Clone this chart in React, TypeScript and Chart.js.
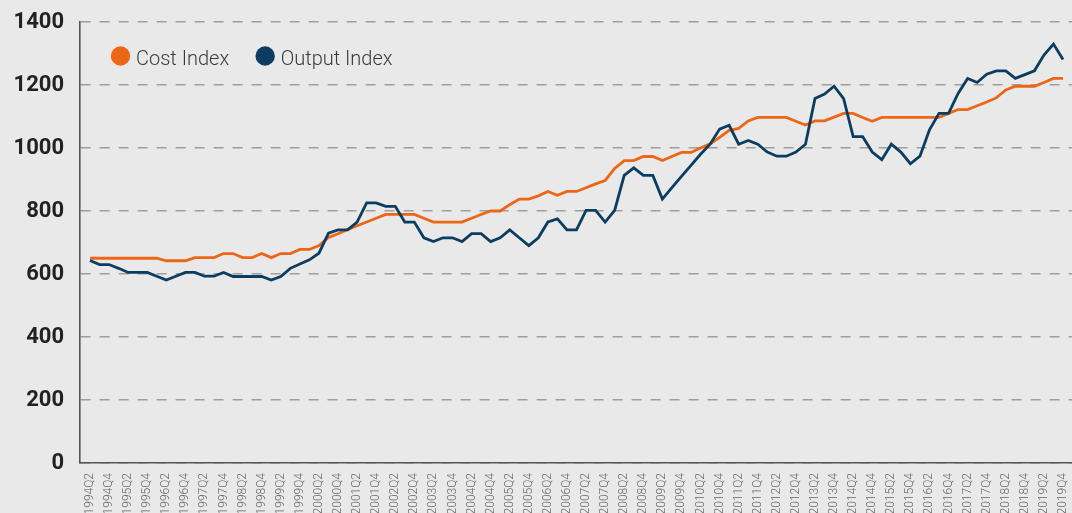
import React, { useEffect, useRef } from "react";
import { Chart, registerables } from "chart.js";

Chart.register(...registerables);

const categories = [
  "1994Q2","1994Q3","1994Q4","1995Q1","1995Q2","1995Q3","1995Q4","1996Q1","1996Q2","1996Q3","1996Q4",
  "1997Q1","1997Q2","1997Q3","1997Q4","1998Q1","1998Q2","1998Q3","1998Q4","1999Q1","1999Q2","1999Q3","1999Q4",
  "2000Q1","2000Q2","2000Q3","2000Q4","2001Q1","2001Q2","2001Q3","2001Q4","2002Q1","2002Q2","2002Q3","2002Q4",
  "2003Q1","2003Q2","2003Q3","2003Q4","2004Q1","2004Q2","2004Q3","2004Q4","2005Q1","2005Q2","2005Q3","2005Q4",
  "2006Q1","2006Q2","2006Q3","2006Q4","2007Q1","2007Q2","2007Q3","2007Q4","2008Q1","2008Q2","2008Q3","2008Q4",
  "2009Q1","2009Q2","2009Q3","2009Q4","2010Q1","2010Q2","2010Q3","2010Q4","2011Q1","2011Q2","2011Q3","2011Q4",
  "2012Q1","2012Q2","2012Q3","2012Q4","2013Q1","2013Q2","2013Q3","2013Q4","2014Q1","2014Q2","2014Q3","2014Q4",
  "2015Q1","2015Q2","2015Q3","2015Q4","2016Q1","2016Q2","2016Q3","2016Q4","2017Q1","2017Q2","2017Q3","2017Q4",
  "2018Q1","2018Q2","2018Q3","2018Q4","2019Q1","2019Q2","2019Q3","2019Q4"
];

const costIndex = [
  650, 650, 650, 650, 650, 650, 650, 650, 642, 642, 642,
  652, 652, 652, 665, 665, 652, 652, 665, 652, 665, 665, 678,
  678, 690, 716, 728, 741, 753, 765, 777, 789, 789, 789, 789,
  777, 765, 765, 765, 765, 777, 789, 800, 800, 820, 838, 838,
  848, 862, 850, 862, 862, 874, 886, 897, 935, 960, 960, 973,
  973, 960, 973, 986, 986, 1000, 1013, 1034, 1056, 1062, 1086, 1097,
  1097, 1097, 1097, 1085, 1073, 1086, 1086, 1098, 1110, 1110, 1097, 1085,
  1097, 1097, 1097, 1097, 1097, 1097, 1097, 1110, 1122, 1122, 1134, 1146,
  1159, 1184, 1196, 1196, 1196, 1208, 1221, 1221
];

const outputIndex = [
  643, 630, 630, 618, 605, 605, 605, 593, 581, 593, 605,
  605, 593, 593, 605, 592, 592, 592, 592, 581, 592, 618, 632,
  645, 666, 730, 740, 740, 765, 826, 826, 815, 815, 765, 765,
  715, 703, 715, 715, 703, 728, 728, 703, 715, 740, 715, 690,
  715, 765, 775, 740, 740, 802, 802, 765, 802, 913, 937, 913,
  913, 838, 874, 910, 945, 980, 1012, 1060, 1072, 1012, 1024, 1012,
  987, 974, 974, 987, 1012, 1157, 1171, 1196, 1157, 1036, 1036, 987,
  963, 1012, 987, 950, 974, 1058, 1110, 1110, 1173, 1221, 1208, 1234,
  1245, 1245, 1221, 1233, 1245, 1295, 1330, 1281
];

const seriesNames = ["Cost Index", "Output Index"];
const seriesColors = ["#EC6616", "#0B3D60"];
const yTicks = [0, 200, 400, 600, 800, 1000, 1200, 1400];

const insideLegend = {
  id: "insideLegend",
  afterDraw(chart: any) {
    const { ctx, chartArea } = chart;
    ctx.save();
    ctx.font = "300 20px Roboto";
    let x = chartArea.left + 40.5;
    const cy = chartArea.top + 34;
    seriesNames.forEach((name, i) => {
      ctx.fillStyle = seriesColors[i];
      ctx.beginPath();
      ctx.arc(x, cy, 9.7, 0, Math.PI * 2);
      ctx.fill();
      ctx.fillStyle = "#3a3a3a";
      ctx.textBaseline = "alphabetic";
      ctx.textAlign = "left";
      const tx = x + 15.5;
      ctx.fillText(name, tx, cy + 8.5);
      x = tx + ctx.measureText(name).width + 36;
    });
    ctx.restore();
  },
};

export default function App() {
  const canvasRef = useRef<HTMLCanvasElement | null>(null);

  useEffect(() => {
    document.body.style.margin = "0";
    document.body.style.background = "#e9e9e9";
    const canvas = canvasRef.current;
    if (!canvas) return;
    const chart = new Chart(canvas, {
      type: "line",
      data: {
        datasets: [
          {
            label: seriesNames[0],
            data: costIndex.map((v, i) => ({ x: i, y: v })),
            borderColor: seriesColors[0],
            backgroundColor: seriesColors[0],
            borderWidth: 2.8,
            pointRadius: 0,
            tension: 0,
            order: 1,
          },
          {
            label: seriesNames[1],
            data: outputIndex.map((v, i) => ({ x: i, y: v })),
            borderColor: seriesColors[1],
            backgroundColor: seriesColors[1],
            borderWidth: 2.8,
            pointRadius: 0,
            tension: 0,
            order: 0,
          },
        ],
      },
      options: {
        responsive: false,
        animation: false,
        devicePixelRatio: 1,
        layout: { padding: { top: 22, right: 0, bottom: 0, left: 0 } },
        plugins: {
          legend: { display: false },
          tooltip: { enabled: false },
        },
        scales: {
          x: {
            type: "linear",
            min: -1.048,
            max: 102.94,
            afterFit: (s: any) => {
              s.height = 50;
              s.paddingLeft = 0;
              s.paddingRight = 0;
            },
            afterBuildTicks: (s: any) => {
              s.ticks = categories
                .map((_, i) => ({ value: i }))
                .filter((t) => t.value % 2 === 0);
            },
            ticks: {
              autoSkip: false,
              minRotation: 90,
              maxRotation: 90,
              padding: 10,
              color: "#666",
              font: { family: "Roboto", size: 12, weight: "300" as any },
              callback: (v: any) => categories[v as number],
            },
            grid: { display: false, drawTicks: false },
            border: { display: true, color: "#555", width: 1.6 },
          },
          y: {
            min: 0,
            max: 1400,
            afterFit: (s: any) => {
              s.width = 80;
              s.paddingTop = 0;
              s.paddingBottom = 0;
            },
            afterBuildTicks: (s: any) => {
              s.ticks = yTicks.map((v) => ({ value: v }));
            },
            ticks: {
              padding: 16,
              color: "#222",
              font: { family: "Roboto", size: 22, weight: "bold" },
              callback: (v: any) => String(v),
            },
            grid: {
              drawTicks: false,
              color: "#9e9e9e",
              lineWidth: 1.6,
            },
            border: { display: true, color: "#555", width: 1.6, dash: [10, 9] },
          },
        },
      },
      plugins: [insideLegend],
    });
    return () => chart.destroy();
  }, []);

  return (
    <div style={{ position: "fixed", left: 0, top: 0, width: 1072, height: 513, background: "#e9e9e9" }}>
      <canvas ref={canvasRef} width={1072} height={513} style={{ display: "block" }} />
    </div>
  );
}
